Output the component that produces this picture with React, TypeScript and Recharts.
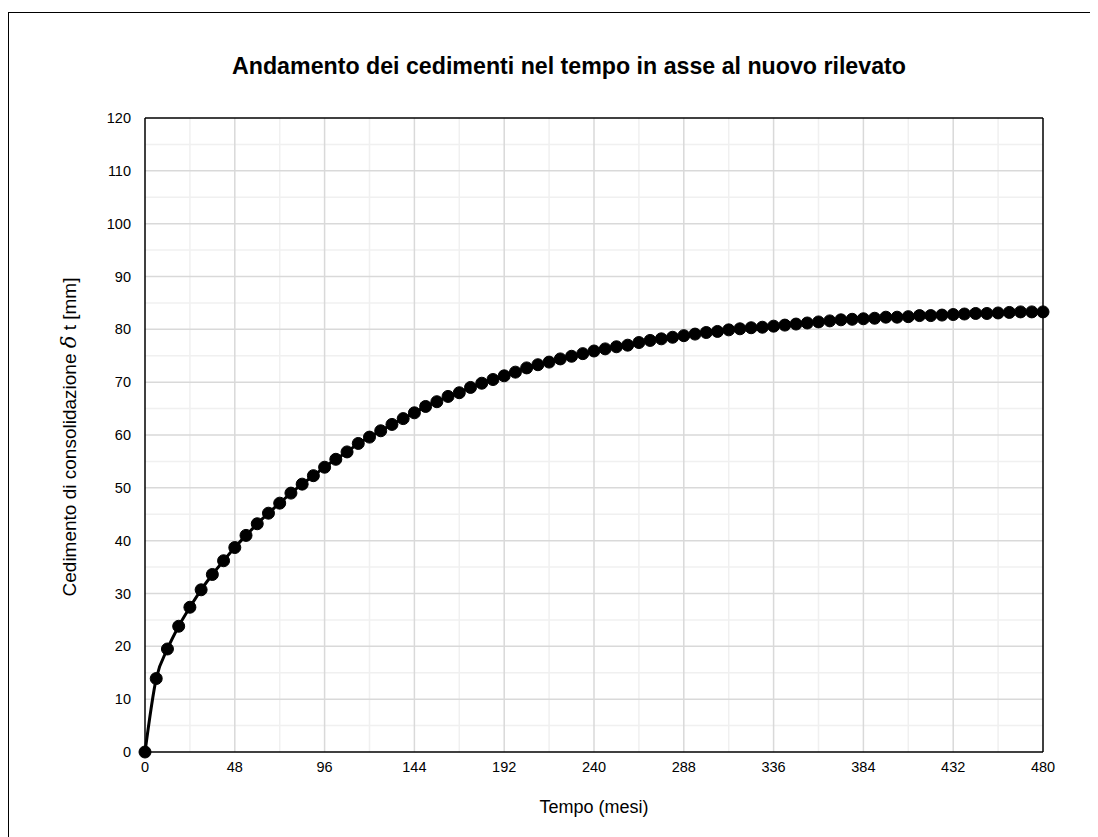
import { LineChart, Line, XAxis, YAxis, ReferenceLine } from "recharts"

const months = [
  0, 6, 12, 18, 24, 30, 36, 42, 48, 54, 60, 66, 72, 78, 84, 90, 96, 102, 108, 114,
  120, 126, 132, 138, 144, 150, 156, 162, 168, 174, 180, 186, 192, 198, 204, 210,
  216, 222, 228, 234, 240, 246, 252, 258, 264, 270, 276, 282, 288, 294, 300, 306,
  312, 318, 324, 330, 336, 342, 348, 354, 360, 366, 372, 378, 384, 390, 396, 402,
  408, 414, 420, 426, 432, 438, 444, 450, 456, 462, 468, 474, 480,
]

const settlement = [
  0, 13.9, 19.5, 23.8, 27.4, 30.7, 33.6, 36.2, 38.7, 41.0, 43.2, 45.2, 47.1, 49.0,
  50.7, 52.3, 53.9, 55.4, 56.8, 58.4, 59.6, 60.8, 62.0, 63.1, 64.2, 65.4, 66.3,
  67.3, 68.0, 69.0, 69.8, 70.5, 71.2, 71.9, 72.7, 73.3, 73.8, 74.4, 74.9, 75.4,
  75.9, 76.3, 76.7, 77.0, 77.5, 77.9, 78.2, 78.5, 78.8, 79.1, 79.4, 79.6, 79.9,
  80.1, 80.3, 80.4, 80.6, 80.8, 81.0, 81.2, 81.4, 81.6, 81.8, 81.9, 82.0, 82.1,
  82.3, 82.3, 82.4, 82.6, 82.6, 82.7, 82.8, 82.9, 83.0, 83.0, 83.1, 83.2, 83.3,
  83.3, 83.3,
]

const xTicks = [0, 48, 96, 144, 192, 240, 288, 336, 384, 432, 480]
const xMinor = [24, 72, 120, 168, 216, 264, 312, 360, 408, 456]
const yTicks = [0, 10, 20, 30, 40, 50, 60, 70, 80, 90, 100, 110, 120]
const yMinor = [5, 15, 25, 35, 45, 55, 65, 75, 85, 95, 105, 115]

const data = months.map((t, i) => ({ t, s: settlement[i] }))

const font = '"Liberation Sans", Arial, sans-serif'

export default function App() {
  return (
    <div
      style={{
        position: "relative",
        marginTop: 4,
        width: 1085,
        height: 840,
        border: "1px solid #000",
        boxSizing: "border-box",
        fontFamily: font,
      }}
    >
      <div
        style={{
          position: "absolute",
          top: 40,
          left: 0,
          width: 1120,
          textAlign: "center",
          fontSize: 23.2,
          fontWeight: "bold",
        }}
      >
        Andamento dei cedimenti nel tempo in asse al nuovo rilevato
      </div>
      <div
        style={{
          position: "absolute",
          left: 60 - 200,
          top: 424 - 12,
          width: 400,
          textAlign: "center",
          fontSize: 19,
          whiteSpace: "nowrap",
          transform: "rotate(-90deg)",
        }}
      >
        Cedimento di consolidazione{" "}
        <span style={{ fontFamily: "DejaVu Serif", fontStyle: "italic", fontWeight: 300, fontSize: 21 }}>δ</span> t [mm]
      </div>
      <div
        style={{
          position: "absolute",
          left: 136,
          top: 784,
          width: 898,
          textAlign: "center",
          fontSize: 18,
        }}
      >
        Tempo (mesi)
      </div>
      <div style={{ position: "absolute", left: 0, top: 0 }}>
        <LineChart
          width={1082}
          height={830}
          data={data}
          margin={{ top: 105, right: 48, bottom: 61, left: 76 }}
          style={{ fontFamily: font }}
        >
          <XAxis
            dataKey="t"
            type="number"
            domain={[0, 480]}
            ticks={xTicks}
            tickLine={false}
            axisLine={{ stroke: "#000", strokeWidth: 1.5 }}
            tick={{ fill: "#000", fontSize: 14.5 }}
            height={30}
            tickMargin={4}
          />
          <YAxis
            type="number"
            domain={[0, 120]}
            ticks={yTicks}
            tickLine={false}
            axisLine={{ stroke: "#000", strokeWidth: 1.5 }}
            tick={{ fill: "#000", fontSize: 14.5 }}
            width={60}
            tickMargin={8}
          />
          {xMinor.map((v) => (
            <ReferenceLine key={"xm" + v} x={v} stroke="#f0f0f0" strokeWidth={1.5} />
          ))}
          {yMinor.map((v) => (
            <ReferenceLine key={"ym" + v} y={v} stroke="#f0f0f0" strokeWidth={1.5} />
          ))}
          {xTicks.slice(1, -1).map((v) => (
            <ReferenceLine key={"x" + v} x={v} stroke="#d9d9d9" strokeWidth={1.5} />
          ))}
          {yTicks.slice(1, -1).map((v) => (
            <ReferenceLine key={"y" + v} y={v} stroke="#d9d9d9" strokeWidth={1.5} />
          ))}
          <ReferenceLine y={120} stroke="#000" strokeWidth={1.5} />
          <ReferenceLine x={480} stroke="#000" strokeWidth={1.5} />
          <Line
            dataKey="s"
            type="monotone"
            stroke="#000"
            strokeWidth={3}
            dot={{ r: 6, fill: "#000", stroke: "#000", strokeWidth: 1 }}
            isAnimationActive={false}
          />
        </LineChart>
      </div>
    </div>
  )
}
